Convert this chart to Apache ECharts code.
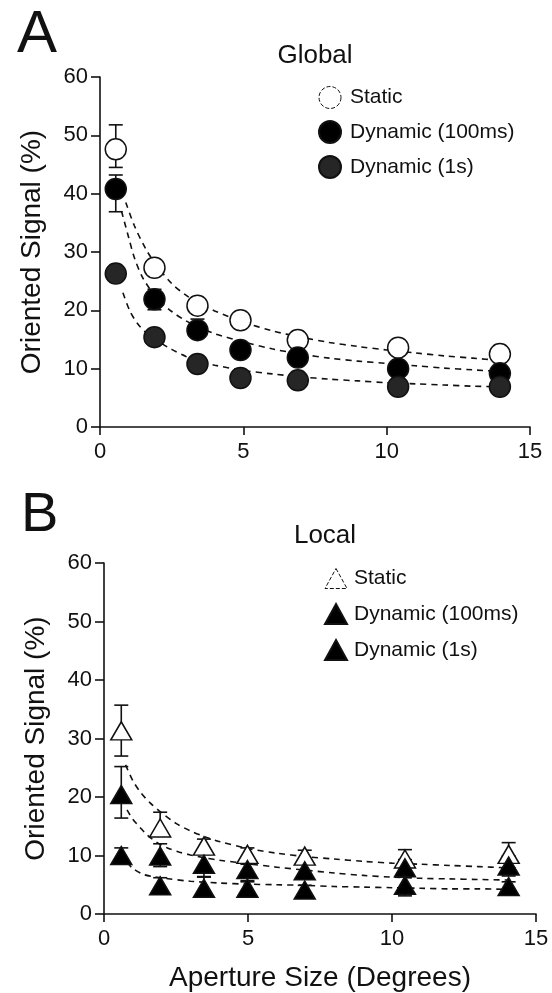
<!DOCTYPE html>
<html>
<head>
<meta charset="utf-8">
<script src="https://cdn.jsdelivr.net/npm/echarts@6/dist/echarts.min.js"></script>
<style>
html,body{margin:0;padding:0;background:#fff;}
#chart{width:552px;height:993px;}
</style>
</head>
<body>
<div id="chart"></div>
<script>
// ---------- Panel A (Global) ----------
const xA = [0.55, 1.9, 3.4, 4.9, 6.9, 10.4, 13.95];
const globalStatic = [47.6, 27.3, 20.8, 18.3, 14.9, 13.6, 12.5];
const globalDyn100 = [40.8, 21.9, 16.6, 13.2, 11.9, 10.0, 9.2];
const globalDyn1s  = [26.3, 15.4, 10.8, 8.4, 8.0, 6.9, 6.9];
// error bars [x, low, high]
const globalStaticErr = [[0.55, 44.5, 51.8]];
const globalDyn100Err = [[0.55, 36.9, 43.2], [1.9, 20.1, 23.6], [3.4, 15.3, 18.5]];
// fitted dashed curves [x, y]
const globalStaticFit = [[0.9,38.5],[1.2,34.5],[1.6,30.5],[2,27.5],[2.5,24.6],[3,22.6],[3.5,21.1],[4,19.9],[5,18],[6,16.5],[7,15.4],[8,14.5],[9,13.8],[10,13.2],[11,12.7],[12,12.2],[13,11.8],[14,11.4]];
const globalDyn100Fit = [[0.75,37],[1.0,32.5],[1.2,29],[1.5,25.5],[2,22],[2.5,19.8],[3,18.2],[3.5,17],[4,16],[5,14.6],[6,13.4],[7,12.5],[8,11.8],[9,11.3],[10,10.9],[11,10.5],[12,10.1],[13,9.8],[14,9.5]];
const globalDyn1sFit  = [[0.8,23],[1.05,19.8],[1.3,17.8],[1.6,16.2],[2,14.8],[2.5,13.3],[3,12.1],[3.5,11.2],[4,10.6],[5,9.7],[6,9.1],[7,8.6],[8,8.2],[9,7.9],[10,7.6],[11,7.4],[12,7.2],[13,7.0],[14,6.9]];

// ---------- Panel B (Local) ----------
const xB = [0.6, 1.95, 3.47, 4.98, 6.97, 10.45, 14.05];
const localStatic = [31.3, 14.7, 11.6, 10.2, 9.9, 9.4, 10.2];
const localDyn100 = [20.4, 9.9, 8.5, 7.6, 7.4, 7.9, 8.2];
const localDyn1s  = [10.0, 4.8, 4.4, 4.4, 4.1, 4.9, 4.7];
const localStaticErr = [[0.6,27.0,35.7],[1.95,13.6,17.4],[3.47,10.2,12.8],[4.98,9.2,11.3],[6.97,9.0,10.9],[10.45,8.2,11.0],[14.05,7.9,12.2]];
const localDyn100Err = [[0.6,16.4,25.2],[1.95,8.1,12.0],[3.47,6.4,10.2],[4.98,5.7,8.5],[6.97,6.2,8.6],[10.45,6.3,9.3],[14.05,6.5,9.9]];
const localDyn1sErr  = [[0.6,9.0,11.3],[1.95,4.0,6.2],[3.47,3.5,6.3],[4.98,3.5,5.5],[6.97,3.4,4.9],[10.45,3.1,6.4],[14.05,3.8,5.5]];
const localStaticFit = [[0.75,25.5],[1,22.8],[1.3,20.6],[1.6,19],[2,17.3],[2.5,15.5],[3,14.2],[3.5,13.2],[4,12.4],[5,11.2],[6,10.4],[7,9.8],[8,9.4],[9,9.0],[10,8.7],[11,8.5],[12,8.3],[13,8.1],[14,7.9]];
const localDyn100Fit = [[0.8,17.8],[1.0,16.2],[1.25,14.8],[1.5,13.5],[1.85,12.2],[2.2,11.3],[2.6,10.6],[3,10.1],[3.5,9.6],[4,9.2],[5,8.6],[6,8.0],[7,7.5],[8,7.0],[9,6.6],[10,6.3],[11,6.1],[12,6.0],[13,5.9],[14,5.8]];
const localDyn1sFit  = [[0.8,8.8],[1.0,7.8],[1.35,6.8],[1.7,6.4],[2.1,6.1],[3,5.6],[4,5.3],[5,5.1],[6,5.0],[7,4.9],[8,4.7],[9,4.6],[10,4.5],[11,4.4],[12,4.3],[13,4.3],[14,4.2]];

const yTicks = [0, 10, 20, 30, 40, 50, 60];
const xTicks = [0, 5, 10, 15];
const legendNames = ['Static', 'Dynamic (100ms)', 'Dynamic (1s)'];

const FONT = 'Liberation Sans, Arial, Helvetica, sans-serif';
const INK = '#111';

function pairs(xs, ys){ return xs.map((x,i)=>[x, ys[i]]); }

function errSeries(data, xi){
  return {
    type: 'custom', xAxisIndex: xi, yAxisIndex: xi, silent: true, z: 3,
    data: data, encode: {x: 0, y: [1, 2]},
    renderItem: function(params, api){
      const x = api.value(0), lo = api.value(1), hi = api.value(2);
      const p1 = api.coord([x, lo]), p2 = api.coord([x, hi]);
      const w = 7;
      const st = {stroke: INK, lineWidth: 1.6};
      return {type: 'group', children: [
        {type: 'line', shape: {x1: p1[0], y1: p1[1], x2: p2[0], y2: p2[1]}, style: st},
        {type: 'line', shape: {x1: p1[0]-w, y1: p1[1], x2: p1[0]+w, y2: p1[1]}, style: st},
        {type: 'line', shape: {x1: p2[0]-w, y1: p2[1], x2: p2[0]+w, y2: p2[1]}, style: st}
      ]};
    }
  };
}
function fitSeries(data, xi){
  return {type: 'line', xAxisIndex: xi, yAxisIndex: xi, data: data, smooth: 0.3,
    showSymbol: false, silent: true, z: 2,
    lineStyle: {color: INK, width: 1.6, type: [6, 5]}};
}
function markSeries(name, xs, ys, xi, symbol, size, fill){
  return {type: 'scatter', name: name, xAxisIndex: xi, yAxisIndex: xi,
    data: pairs(xs, ys), symbol: symbol, symbolSize: size, z: 5,
    itemStyle: {color: fill, borderColor: INK, borderWidth: 1.5, opacity: 1}};
}

function yAxis(gi){
  return {type: 'value', gridIndex: gi, min: 0, max: 60, interval: 10,
    name: 'Oriented Signal (%)', nameLocation: 'middle', nameGap: 54,
    nameTextStyle: {fontFamily: FONT, fontSize: 28, color: INK},
    axisLine: {show: true, lineStyle: {color: INK, width: 1.6}},
    axisTick: {show: true, length: 9, lineStyle: {color: INK, width: 1.6}},
    axisLabel: {fontFamily: FONT, fontSize: 22, color: INK, margin: 12,
      formatter: v => yTicks.includes(v) ? String(v) : ''},
    splitLine: {show: false}};
}
function xAxis(gi, withName){
  const a = {type: 'value', gridIndex: gi, min: 0, max: 15, interval: 5,
    axisLine: {show: true, onZero: false, lineStyle: {color: INK, width: 1.6}},
    axisTick: {show: true, length: 8, lineStyle: {color: INK, width: 1.6}},
    axisLabel: {fontFamily: FONT, fontSize: 22, color: INK, margin: 14,
      formatter: v => xTicks.includes(v) ? String(v) : ''},
    splitLine: {show: false}};
  if (withName){
    a.name = 'Aperture Size (Degrees)';
    a.nameLocation = 'middle';
    a.nameGap = 50;
    a.nameTextStyle = {fontFamily: FONT, fontSize: 28, color: INK};
  }
  return a;
}

const chart = echarts.init(document.getElementById('chart'), null, {renderer: 'canvas'});
chart.setOption({
  animation: false,
  backgroundColor: '#fff',
  title: [
    {text: 'A', left: 12, top: 0, textStyle: {fontFamily: FONT, fontSize: 60, fontWeight: 'normal', color: INK}},
    {text: 'Global', left: 310, top: 38, textAlign: 'center', textStyle: {fontFamily: FONT, fontSize: 26, fontWeight: 'normal', color: INK}},
    {text: 'B', left: 16, top: 483, textStyle: {fontFamily: FONT, fontSize: 56, fontWeight: 'normal', color: INK}},
    {text: 'Local', left: 320, top: 518, textAlign: 'center', textStyle: {fontFamily: FONT, fontSize: 26, fontWeight: 'normal', color: INK}}
  ],
  legend: [
    {orient: 'vertical', left: 313, top: 81, itemWidth: 22, itemHeight: 22, itemGap: 11,
      data: [
        {name: 'Static', itemStyle: {borderType: 'dashed', borderWidth: 1}},
        {name: 'Dynamic (100ms)'},
        {name: 'Dynamic (1s)'}
      ],
      textStyle: {fontFamily: FONT, fontSize: 21, color: INK, padding: [0, 0, 0, 4]}, selectedMode: false},
    {orient: 'vertical', left: 319, top: 563, itemWidth: 22, itemHeight: 20, itemGap: 14,
      data: [
        {name: 'L Static', itemStyle: {borderType: 'dashed', borderWidth: 1}},
        {name: 'L Dynamic (100ms)'},
        {name: 'L Dynamic (1s)'}
      ],
      formatter: n => n.replace(/^L /, ''),
      textStyle: {fontFamily: FONT, fontSize: 21, color: INK, padding: [0, 0, 0, 2]}, selectedMode: false}
  ],
  grid: [
    {left: 100, top: 77, width: 430, height: 350},
    {left: 104, top: 563, width: 432, height: 352}
  ],
  xAxis: [xAxis(0, false), xAxis(1, true)],
  yAxis: [yAxis(0), yAxis(1)],
  series: [
    fitSeries(globalStaticFit, 0),
    fitSeries(globalDyn100Fit, 0),
    fitSeries(globalDyn1sFit, 0),
    errSeries(globalStaticErr, 0),
    errSeries(globalDyn100Err, 0),
    markSeries(legendNames[0], xA, globalStatic, 0, 'circle', 21, '#fff'),
    markSeries(legendNames[1], xA, globalDyn100, 0, 'circle', 21, '#000'),
    markSeries(legendNames[2], xA, globalDyn1s, 0, 'circle', 21, '#262626'),

    fitSeries(localStaticFit, 1),
    fitSeries(localDyn100Fit, 1),
    fitSeries(localDyn1sFit, 1),
    errSeries(localStaticErr, 1),
    errSeries(localDyn100Err, 1),
    errSeries(localDyn1sErr, 1),
    markSeries('L ' + legendNames[0], xB, localStatic, 1, 'triangle', [21, 18], '#fff'),
    markSeries('L ' + legendNames[1], xB, localDyn100, 1, 'triangle', [21, 18], '#000'),
    markSeries('L ' + legendNames[2], xB, localDyn1s, 1, 'triangle', [21, 18], '#000')
  ]
});
</script>
</body>
</html>
